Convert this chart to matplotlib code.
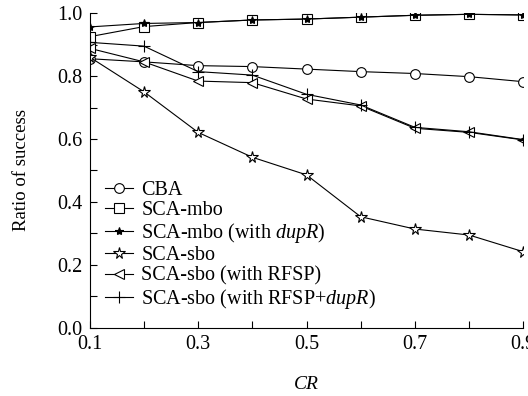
import matplotlib
matplotlib.use('Agg')
import matplotlib.pyplot as plt
from matplotlib.ticker import MultipleLocator
import numpy as np

plt.rcParams['font.family'] = 'Liberation Serif'
plt.rcParams['mathtext.fontset'] = 'custom'
plt.rcParams['mathtext.rm'] = 'Liberation Serif'
plt.rcParams['mathtext.it'] = 'Liberation Serif:italic'

cr = [0.1, 0.2, 0.3, 0.4, 0.5, 0.6, 0.7, 0.8, 0.9]
cba = [0.855, 0.845, 0.833, 0.830, 0.822, 0.814, 0.808, 0.798, 0.782]
sca_mbo = [0.925, 0.957, 0.970, 0.978, 0.981, 0.987, 0.993, 0.996, 0.994]
sca_mbo_dupr = [0.956, 0.967, 0.970, 0.978, 0.981, 0.987, 0.993, 0.996, 0.994]
sca_sbo = [0.860, 0.750, 0.621, 0.542, 0.486, 0.353, 0.314, 0.295, 0.242]
sca_sbo_rfsp = [0.888, 0.845, 0.784, 0.779, 0.727, 0.705, 0.634, 0.621, 0.597]
sca_sbo_rfsp_dupr = [0.907, 0.895, 0.814, 0.803, 0.742, 0.708, 0.637, 0.623, 0.598]

series = [
    ('CBA', cba, 'o', 'white', 7),
    ('SCA-mbo', sca_mbo, 's', 'white', 7),
    (r'SCA-mbo (with $\it{dupR}$)', sca_mbo_dupr, '*', 'black', 6),
    ('SCA-sbo', sca_sbo, '*', 'white', 8.5),
    ('SCA-sbo (with RFSP)', sca_sbo_rfsp, '<', 'white', 7),
    (r'SCA-sbo (with RFSP+$\it{dupR}$)', sca_sbo_rfsp_dupr, '+', 'black', 8),
]

fig = plt.figure(figsize=(5.28, 3.96), dpi=100)
ax = fig.add_axes([0.170, 0.172, 0.821, 0.795])

for label, vals, m, fc, ms in series:
    ax.plot(cr, vals, color='black', lw=0.8, marker=m, markerfacecolor=fc,
            markeredgecolor='black', markeredgewidth=0.8, markersize=ms, label=label)

ax.set_xlim(0.1, 0.9)
ax.set_ylim(0.0, 1.0)
ax.set_xticks([0.1, 0.3, 0.5, 0.7, 0.9])
ax.xaxis.set_minor_locator(MultipleLocator(0.1))
ax.yaxis.set_major_locator(MultipleLocator(0.2))
ax.yaxis.set_minor_locator(MultipleLocator(0.1))
ax.tick_params(which='both', direction='in', labelsize=14.5, length=5, width=0.8, pad=5)
ax.spines['top'].set_visible(False)
ax.spines['right'].set_visible(False)
ax.set_xlabel('CR', fontsize=14, style='italic', labelpad=16)
ax.set_ylabel('Ratio of success', fontsize=13.5, labelpad=20)

leg = ax.legend(loc='lower left', bbox_to_anchor=(0.035, 0.055), frameon=False, fontsize=14.5,
                handlelength=1.4, handletextpad=0.4, labelspacing=0.05, borderaxespad=0,
                borderpad=0)

fig.savefig('out.png', dpi=100)
